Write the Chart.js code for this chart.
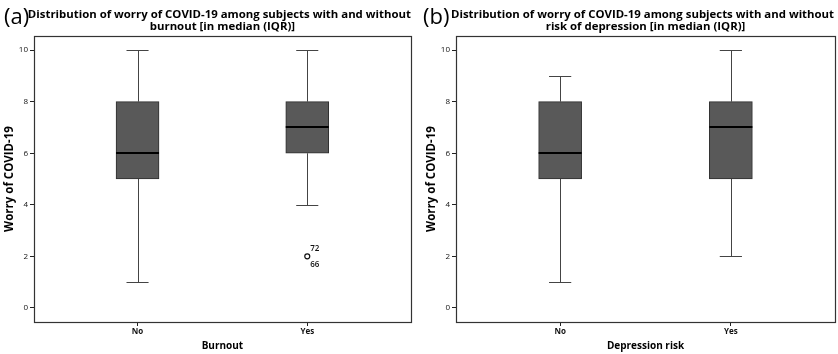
<!DOCTYPE html>
<html>
<head>
<meta charset="utf-8">
<script src="https://cdn.jsdelivr.net/npm/chart.js@4.4.1/dist/chart.umd.min.js"></script>
<style>
  html, body { margin: 0; padding: 0; background: #fff; }
  body { width: 838px; height: 354px; position: relative; overflow: hidden; }
  .panel { position: absolute; top: 0; width: 416px; height: 354px; }
</style>
</head>
<body>
<div class="panel" style="left:0"><canvas id="c1"></canvas></div>
<div class="panel" style="left:422px"><canvas id="c2"></canvas></div>
<script>
// ---- data ----
const categories = ["No", "Yes"];
const yTicks = [0, 2, 4, 6, 8, 10];

// Panel (a): Burnout
const burnoutMin    = [1, 4];
const burnoutQ1     = [5, 6];
const burnoutMedian = [6, 7];
const burnoutQ3     = [8, 8];
const burnoutMax    = [10, 10];
const burnoutOutliers = [{ cat: 1, value: 2, labels: ["72", "66"] }];

// Panel (b): Depression risk
const depMin    = [1, 2];
const depQ1     = [5, 5];
const depMedian = [6, 7];
const depQ3     = [8, 8];
const depMax    = [9, 10];
const depOutliers = [];

const BOLD = "'Open Sans', 'DejaVu Sans', sans-serif";

const boxPlugin = {
  id: 'boxExtras',
  afterDatasetsDraw(chart, args, o) {
    const ctx = chart.ctx, x = chart.scales.x, y = chart.scales.y;
    ctx.save();
    // whiskers and caps
    ctx.strokeStyle = '#444';
    ctx.lineWidth = 1;
    o.min.forEach((mn, i) => {
      const cx = Math.round(x.getPixelForValue(i)) + 0.5;
      const capL = x.getPixelForValue(i - 0.065), capR = x.getPixelForValue(i + 0.065);
      const pMin = Math.round(y.getPixelForValue(mn)) + 0.5;
      const pMax = Math.round(y.getPixelForValue(o.max[i])) + 0.5;
      const pQ1 = y.getPixelForValue(o.q1[i]);
      const pQ3 = y.getPixelForValue(o.q3[i]);
      ctx.beginPath();
      ctx.moveTo(cx, pQ3); ctx.lineTo(cx, pMax);
      ctx.moveTo(cx, pQ1); ctx.lineTo(cx, pMin);
      ctx.moveTo(capL, pMax); ctx.lineTo(capR, pMax);
      ctx.moveTo(capL, pMin); ctx.lineTo(capR, pMin);
      ctx.stroke();
    });
    // medians
    const bar = chart.getDatasetMeta(0).data;
    ctx.strokeStyle = '#000';
    ctx.lineWidth = 2;
    o.median.forEach((m, i) => {
      const el = bar[i];
      const half = el.width / 2;
      const cx = x.getPixelForValue(i);
      const py = Math.round(y.getPixelForValue(m));
      ctx.beginPath();
      ctx.moveTo(cx - half, py); ctx.lineTo(cx + half, py);
      ctx.stroke();
    });
    // outlier labels
    ctx.fillStyle = '#111';
    ctx.font = "600 8px " + BOLD;
    ctx.textAlign = 'left';
    ctx.textBaseline = 'middle';
    o.outliers.forEach(ol => {
      const px = x.getPixelForValue(ol.cat), py = y.getPixelForValue(ol.value);
      ctx.fillText(ol.labels[0], px + 3, py - 8);
      ctx.fillText(ol.labels[1], px + 3, py + 8);
    });
    // frame
    const a = chart.chartArea;
    ctx.strokeStyle = '#333';
    ctx.lineWidth = 1.2;
    ctx.strokeRect(Math.round(a.left) + 0.5, Math.round(a.top) + 0.5, Math.round(a.right - a.left), Math.round(a.bottom - a.top));
    ctx.restore();
  },
  afterDraw(chart, args, o) {
    const ctx = chart.ctx, a = chart.chartArea;
    ctx.save();
    ctx.fillStyle = '#000';
    // panel letter
    ctx.font = "22px " + BOLD;
    ctx.textAlign = 'left';
    ctx.textBaseline = 'middle';
    ctx.fillText(o.letter, o.letterX, 18);
    // title
    ctx.font = "bold 11.4px " + BOLD;
    ctx.textAlign = 'center';
    const cx = (a.left + a.right) / 2;
    ctx.fillText(o.title[0], cx - 3, 15);
    ctx.fillText(o.title[1], cx, 27);
    // x title
    ctx.font = "bold 10px " + BOLD;
    ctx.fillText(o.xTitle, cx, 346);
    // y title
    ctx.translate(10, (a.top + a.bottom) / 2);
    ctx.rotate(-Math.PI / 2);
    ctx.font = "bold 11.5px " + BOLD;
    ctx.fillText(o.yTitle, 0, 0);
    ctx.restore();
  }
};

function makeChart(id, d) {
  const boxData = categories.map((c, i) => ({ x: i, y: [d.q1[i], d.q3[i]] }));
  const outlierData = d.outliers.map(ol => ({ x: ol.cat, y: ol.value }));
  return new Chart(document.getElementById(id), {
    type: 'bar',
    data: {
      datasets: [
        {
          type: 'bar',
          data: boxData,
          backgroundColor: '#595959',
          borderColor: '#2e2e2e',
          borderWidth: 1,
          borderSkipped: false,
          barThickness: 43
        },
        {
          type: 'scatter',
          data: outlierData,
          pointStyle: 'circle',
          pointRadius: 2.5,
          pointBackgroundColor: '#fff',
          pointBorderColor: '#111',
          pointBorderWidth: 1.2
        }
      ]
    },
    options: {
      responsive: false,
      animation: false,
      devicePixelRatio: 1,
      layout: { padding: { left: 0, right: 3, top: 36, bottom: 0 } },
      plugins: {
        legend: { display: false },
        tooltip: { enabled: false },
        title: { display: false },
        boxExtras: d.opts
      },
      scales: {
        x: {
          type: 'linear',
          offset: false,
          min: -0.61,
          max: 1.61,
          afterBuildTicks: s => { s.ticks = categories.map((c, i) => ({ value: i })); },
          afterFit: s => { s.height = 32; },
          ticks: {
            callback: v => categories[v],
            font: { size: 8, weight: 'bold', family: BOLD },
            color: '#111',
            padding: 1,
            maxRotation: 0
          },
          grid: { offset: false, drawOnChartArea: false, drawTicks: true, tickLength: 4, color: '#222', tickColor: '#222' },
          border: { display: false }
        },
        y: {
          type: 'linear',
          min: -0.55,
          max: 10.55,
          afterBuildTicks: s => { s.ticks = yTicks.map(v => ({ value: v })); },
          afterFit: s => { s.width = 34; },
          ticks: {
            font: { size: 8, family: BOLD },
            color: '#111',
            padding: 2
          },
          grid: { drawOnChartArea: false, drawTicks: true, tickLength: 4, tickColor: '#222' },
          border: { display: false }
        }
      }
    },
    plugins: [boxPlugin]
  });
}

['c1', 'c2'].forEach(id => {
  const c = document.getElementById(id);
  c.width = 416; c.height = 354;
  c.style.width = '416px'; c.style.height = '354px';
});

makeChart('c1', {
  q1: burnoutQ1, q3: burnoutQ3, outliers: burnoutOutliers,
  opts: {
    min: burnoutMin, q1: burnoutQ1, median: burnoutMedian, q3: burnoutQ3, max: burnoutMax,
    outliers: burnoutOutliers,
    letter: '(a)', letterX: 4,
    title: ['Distribution of worry of COVID-19 among subjects with and without', 'burnout [in median (IQR)]'],
    xTitle: 'Burnout', yTitle: 'Worry of COVID-19'
  }
});
makeChart('c2', {
  q1: depQ1, q3: depQ3, outliers: depOutliers,
  opts: {
    min: depMin, q1: depQ1, median: depMedian, q3: depQ3, max: depMax,
    outliers: depOutliers,
    letter: '(b)', letterX: 1,
    title: ['Distribution of worry of COVID-19 among subjects with and without', 'risk of depression [in median (IQR)]'],
    xTitle: 'Depression risk', yTitle: 'Worry of COVID-19'
  }
});
</script>
</body>
</html>
